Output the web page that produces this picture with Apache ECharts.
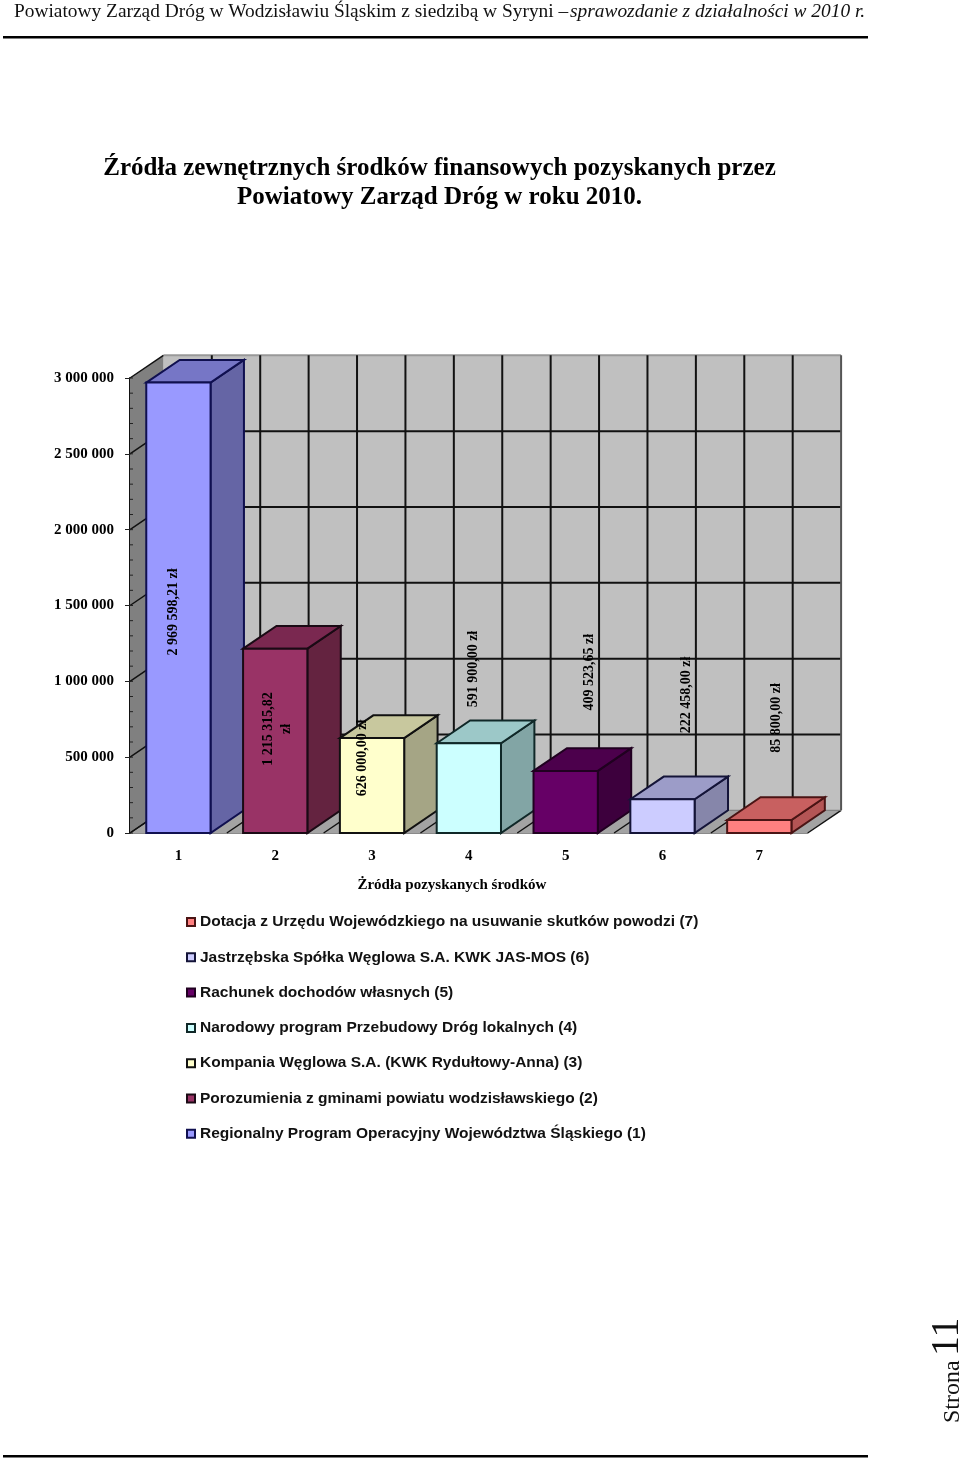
<!DOCTYPE html>
<html><head><meta charset="utf-8">
<style>html,body{margin:0;padding:0;background:#fff}#chart{width:960px;height:1458px}</style>
<script src="https://cdn.jsdelivr.net/npm/echarts@6/dist/echarts.min.js"></script>
</head><body><div id="chart"></div>
<script>
// ---- data ----
const categories = ['1','2','3','4','5','6','7'];
const values = [2969598.21, 1215315.82, 626000.00, 591900.00, 409523.65, 222458.00, 85800.00];
const dataLabels = ['2 969 598,21 zł','1 215 315,82\nzł','626 000,00 zł','591 900,00 zł','409 523,65 zł','222 458,00 zł','85 800,00 zł'];
const seriesNames = [
  'Regionalny Program Operacyjny Województwa Śląskiego (1)',
  'Porozumienia z gminami powiatu wodzisławskiego (2)',
  'Kompania Węglowa S.A. (KWK Rydułtowy-Anna) (3)',
  'Narodowy program Przebudowy Dróg lokalnych (4)',
  'Rachunek dochodów własnych (5)',
  'Jastrzębska Spółka Węglowa S.A. KWK JAS-MOS (6)',
  'Dotacja z Urzędu Wojewódzkiego na usuwanie skutków powodzi (7)'
];
const yTicks = [0,500000,1000000,1500000,2000000,2500000,3000000];
const yTickLabels = ['0','500 000','1 000 000','1 500 000','2 000 000','2 500 000','3 000 000'];
const minorTickStep = 100000;
// ---- styles ----
const frontColors = ['#9999FF','#993366','#FFFFCC','#CCFFFF','#660066','#CCCCFF','#FF8080'];
const sideColors  = ['#6565A5','#642340','#A5A585','#82A5A5','#3D003D','#8686AA','#B45555'];
const topColors   = ['#7676C6','#7A2850','#C8C89E','#9CC8C8','#4C004C','#9C9CC8','#C86060'];
const outline     = ['#101050','#1a0a14','#111','#102828','#200020','#141438','#4a1414'];
// label placement: vertical centre in axis units, horizontal shift in px from the category centre
const labelAnchor = [1457000, 686000, 495000, 1081000, 1061000, 910000, 758000];
const labelShift  = [-5, 2, -10, 5, 24, 24, 17];
const DX = 33.4, DY = 22.7, BAR_RATIO = 0.664;
const SERIF = '"Liberation Serif","Times New Roman",serif';

function line(x1,y1,x2,y2,stroke,w){return {type:'line',shape:{x1,y1,x2,y2},style:{stroke,lineWidth:w}};}
function poly(points,fill,stroke,w){return {type:'polygon',shape:{points},style:{fill,stroke:stroke||null,lineWidth:w||0}};}

function renderWalls(params,api){
  const band = api.size([1,0])[0];
  const bottom = api.coord([0,0])[1], top = api.coord([0,3000000])[1];
  const left = api.coord([0,0])[0]-band/2, right = left+band*categories.length;
  const ch = [];
  ch.push(poly([[left+DX,top-DY],[right+DX,top-DY],[right+DX,bottom-DY],[left+DX,bottom-DY]],'#C0C0C0'));
  ch.push(poly([[left,top],[left+DX,top-DY],[left+DX,bottom-DY],[left,bottom]],'#808080'));
  ch.push(poly([[left,bottom],[right,bottom],[right+DX,bottom-DY],[left+DX,bottom-DY]],'#A3A3A3'));
  yTicks.forEach(v=>{
    const y = api.coord([0,v])[1];
    if(v>0) ch.push(line(left+DX,y-DY,right+DX,y-DY, v===3000000?'#999':'#111',2));
    ch.push(line(left,y,left+DX,y-DY,'#111',1.5));
  });
  for(let k=0;k<=categories.length*2;k++){
    const x = left+k*band/2;
    if(k>0) ch.push(line(x+DX,top-DY,x+DX,bottom-DY,k===categories.length*2?'#555':'#111',2));
    ch.push(line(x,bottom,x+DX,bottom-DY,'#111',1.4));
  }
  ch.push(line(left+DX,bottom-DY,right+DX,bottom-DY,'#777',1));
  for(let v=0;v<=3000000;v+=minorTickStep){
    const y = api.coord([0,v])[1];
    ch.push(line(left,y,left+3,y,'#222',1));
  }
  return {type:'group',children:ch};
}

function renderBar(i){
  return function(params,api){
    const c = api.coord([i,0]), t = api.coord([i,values[i]]);
    const w = api.size([1,0])[0]*BAR_RATIO;
    const x0=c[0]-w/2, x1=c[0]+w/2, y0=c[1], y1=t[1];
    const lb = outline[i], lw=2;
    const anchor = api.coord([i,labelAnchor[i]]);
    return {type:'group',children:[
      poly([[x1,y1],[x1+DX,y1-DY],[x1+DX,y0-DY],[x1,y0]],sideColors[i],lb,lw),
      poly([[x0,y1],[x0+DX,y1-DY],[x1+DX,y1-DY],[x1,y1]],topColors[i],lb,lw),
      poly([[x0,y1],[x1,y1],[x1,y0],[x0,y0]],frontColors[i],lb,lw),
      {type:'text',z2:50,x:anchor[0]+labelShift[i],y:anchor[1],rotation:Math.PI/2,
        style:{text:dataLabels[i],align:'center',verticalAlign:'middle',fill:'#000',
          font:'bold 14px '+SERIF,lineHeight:18}}
    ]};
  };
}

const barSeries = categories.map((c,i)=>({
  type:'custom',name:seriesNames[i],coordinateSystem:'cartesian2d',z:3+i/10,
  itemStyle:{color:frontColors[i],borderColor:outline[i],borderWidth:1.5},
  encode:{x:0,y:1},
  data:[[i,values[i]]],
  renderItem:renderBar(i)
}));

const chart = echarts.init(document.getElementById('chart'),null,{renderer:'canvas'});
chart.setOption({
  animation:false,
  backgroundColor:'#fff',
  title:{
    text:'Źródła zewnętrznych środków finansowych pozyskanych przez\nPowiatowy Zarząd Dróg w roku 2010.',
    left:434.5,top:149,textAlign:'center',
    textStyle:{fontFamily:SERIF,fontWeight:'bold',fontSize:25,lineHeight:29,color:'#000'}
  },
  grid:{left:130,top:378,width:677.7,height:455,containLabel:false},
  xAxis:{type:'category',data:categories,
    axisLine:{lineStyle:{color:'#8a8a8a',width:1}},
    axisTick:{length:5,lineStyle:{color:'#555'}},
    axisLabel:{margin:16,fontFamily:SERIF,fontWeight:'bold',fontSize:15,color:'#000'},
    name:'Żródła pozyskanych środków',nameLocation:'middle',nameGap:45,
    nameTextStyle:{fontFamily:SERIF,fontWeight:'bold',fontSize:15,color:'#000',padding:[0,34,0,0]}
  },
  yAxis:{type:'value',min:0,max:3000000,interval:500000,
    axisLine:{show:true,lineStyle:{color:'#111',width:2}},
    axisTick:{show:true,length:5,lineStyle:{color:'#222'}},
    splitLine:{show:false},
    axisLabel:{margin:16,padding:[2,0,0,0],fontFamily:SERIF,fontWeight:'bold',fontSize:15,color:'#000',
      formatter:v=>yTickLabels[yTicks.indexOf(v)]}
  },
  legend:{
    orient:'vertical',left:186,top:913,padding:0,itemWidth:8,itemHeight:8,itemGap:17.3,icon:'rect',
    data:seriesNames.slice().reverse(),selectedMode:false,
    textStyle:{fontFamily:'"Liberation Sans",Arial,sans-serif',fontWeight:'bold',fontSize:15.5,lineHeight:18,color:'#111'}
  },
  graphic:[
    {type:'text',left:14,top:2,style:{text:'Powiatowy Zarząd Dróg w Wodzisławiu Śląskim z siedzibą w Syryni –',font:'19.4px '+SERIF,fill:'#111'}},
    {type:'text',left:570,top:2,style:{text:'sprawozdanie z działalności w 2010 r.',font:'italic 19.4px '+SERIF,fill:'#111'}},
    {type:'rect',shape:{x:3,y:36,width:865,height:2.5},style:{fill:'#000'}},
    {type:'rect',shape:{x:3,y:1455,width:865,height:2.5},style:{fill:'#000'}},
    {type:'text',x:952.5,y:1423,rotation:Math.PI/2,style:{text:'Strona',font:'24px '+SERIF,fill:'#111',align:'left',verticalAlign:'middle'}},
    {type:'text',x:947,y:1356,rotation:Math.PI/2,style:{text:'11',font:'40px '+SERIF,fill:'#111',align:'left',verticalAlign:'middle'}}
  ],
  series:[{type:'custom',name:'walls',coordinateSystem:'cartesian2d',z:1,silent:true,data:[[0,0]],encode:{x:0,y:1},renderItem:renderWalls}].concat(barSeries)
});
</script></body></html>
